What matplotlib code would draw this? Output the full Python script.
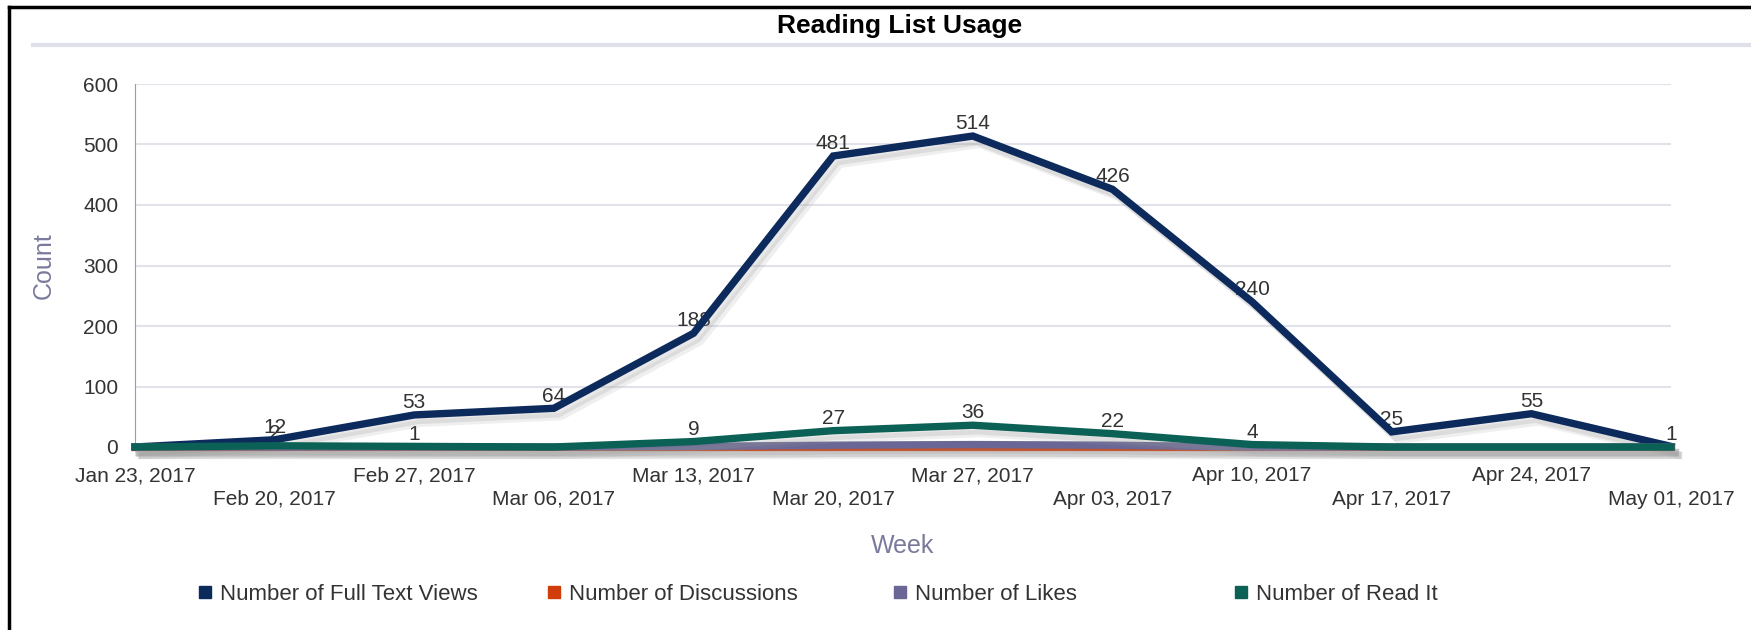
import matplotlib
matplotlib.use('Agg')
import matplotlib.pyplot as plt
import matplotlib.patheffects as pe
from matplotlib.lines import Line2D
import numpy as np

plt.rcParams['font.family'] = ['Liberation Sans Narrow', 'Liberation Sans', 'DejaVu Sans']

weeks = ["Jan 23, 2017", "Feb 20, 2017", "Feb 27, 2017", "Mar 06, 2017",
         "Mar 13, 2017", "Mar 20, 2017", "Mar 27, 2017", "Apr 03, 2017",
         "Apr 10, 2017", "Apr 17, 2017", "Apr 24, 2017", "May 01, 2017"]
full_text_views = [0, 12, 53, 64, 188, 481, 514, 426, 240, 25, 55, 1]
discussions = [0, 0, 0, 0, 0, 0, 0, 0, 0, 0, 0, 0]
likes = [0, 0, 0, 0, 1, 3, 4, 3, 0, 0, 0, 0]
read_it = [0, 2, 1, 0, 9, 27, 36, 22, 4, 0, 0, 0]

names = ["Number of Full Text Views", "Number of Discussions",
         "Number of Likes", "Number of Read It"]
colors = ["#0c2a5c", "#d03c0a", "#6a6796", "#0b6156"]
series = [full_text_views, discussions, likes, read_it]
labelled = [True, False, False, True]

W, H = 1751, 630
fig = plt.figure(figsize=(W / 100, H / 100), dpi=100)
ax = fig.add_axes([135 / W, 1 - 447 / H, (1671 - 135) / W, (447 - 84) / H])

x = np.arange(len(weeks))
# soft drop shadow under each line
shadow = [pe.SimpleLineShadow(offset=(5, -6), shadow_color='#999999', alpha=0.15),
          pe.SimpleLineShadow(offset=(3, -4), shadow_color='#999999', alpha=0.22),
          pe.Normal()]
for vals, c, lab in zip(series, colors, labelled):
    ax.plot(x, vals, color=c, lw=5.3, solid_joinstyle='miter',
            path_effects=shadow, clip_on=False, zorder=3)
    if lab:
        for xi, v in zip(x, vals):
            if v > 0:
                ax.annotate(str(v), (xi, v), xytext=(0, 2), textcoords='offset points',
                            ha='center', va='bottom', fontsize=15, color='#333333',
                            zorder=2)

ax.set_xlim(0, len(weeks) - 1)
ax.set_ylim(0, 600)
ax.set_yticks(range(0, 601, 100))
ax.tick_params(axis='y', length=0, labelsize=15, labelcolor='#333333', pad=12)
ax.grid(axis='y', color='#e2e2ea', lw=1.5)
ax.set_axisbelow(True)
for s in ['top', 'right', 'bottom']:
    ax.spines[s].set_visible(False)
ax.spines['left'].set_color('#9a9ab4')

ax.set_xticks(x)
ax.set_xticklabels([w if i % 2 == 0 else "\n" + w for i, w in enumerate(weeks)])
ax.tick_params(axis='x', length=0, labelsize=15, labelcolor='#333333', pad=14)
for t in ax.get_xticklabels():
    t.set_linespacing(1.3)

ax.set_ylabel("Count", fontsize=18, color='#7a7a9c', labelpad=20)
ax.set_xlabel("Week", fontsize=18, color='#7a7a9c', labelpad=18)

fig.text(900 / W, 1 - 26 / H, "Reading List Usage", ha='center', va='center',
         fontsize=19, fontweight='bold', color='black')
fig.add_artist(Line2D([33 / W, 1], [1 - 45 / H, 1 - 45 / H], color='#e0e0ea', lw=3))
fig.add_artist(Line2D([9 / W, 9 / W], [0, 1 - 7 / H], color='black', lw=2.5))
fig.add_artist(Line2D([9 / W, 1], [1 - 7 / H, 1 - 7 / H], color='black', lw=2.5))

leg_x = [198, 547, 893, 1234]
for lx, name, c in zip(leg_x, names, colors):
    h = Line2D([], [], marker='s', color=c, ls='none', markersize=8)
    fig.legend([h], [name], loc='center left', bbox_to_anchor=(lx / W, 1 - 594 / H),
               frameon=False, fontsize=16, handlelength=0.6, handletextpad=0.4,
               borderaxespad=0, borderpad=0, labelcolor='#333333')

fig.savefig("out.png", dpi=100)
